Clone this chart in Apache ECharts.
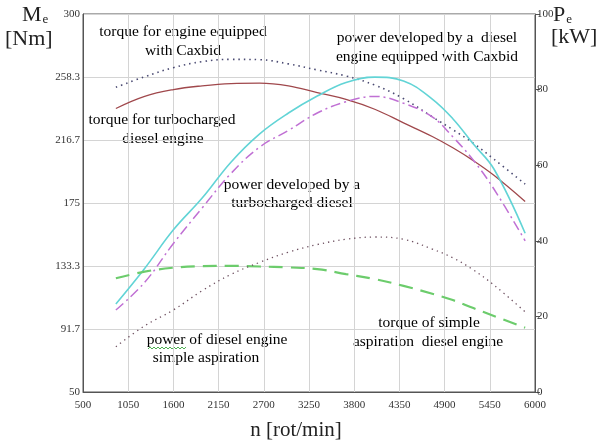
<!DOCTYPE html>
<html><head><meta charset="utf-8">
<script src="https://cdn.jsdelivr.net/npm/echarts@6/dist/echarts.min.js"></script>
<style>html,body{margin:0;padding:0;background:#fff}#c{width:599px;height:444px}</style>
</head><body><div id="c"></div>
<script>
var rpm = [900, 1250, 1600, 1950, 2300, 2650, 3000, 3350, 3700, 4050, 4400, 4750, 5000, 5250, 5500, 5880];
var torqueCaxbid = [251.5, 258.5, 264.5, 268.5, 270, 269.8, 267, 263, 259, 253, 244, 232, 223.5, 214.5, 204, 187.5];
var torqueTurbo = [237.5, 245.5, 250, 252.5, 254, 254.3, 252.5, 248, 243.5, 237, 228, 219, 211.5, 203, 193.3, 176];
var powerTurbo = [23.3, 32.7, 42.9, 51.3, 60.8, 68.3, 73.8, 78.3, 81.9, 83.3, 82.3, 77.5, 72.3, 65.6, 59, 42];
var powerCaxbid = [21.7, 29, 39.3, 48.7, 57.8, 64.8, 69.2, 73.8, 76.8, 78.2, 76.4, 72.8, 67.5, 61.3, 53.7, 40];
var torqueSimple = [125.2, 129.6, 132.2, 133.2, 133.4, 133, 132.4, 131.3, 128, 124.7, 120.2, 115, 110.8, 105.5, 100.3, 92.5];
var powerSimple = [12, 17.5, 21.7, 26.8, 31.1, 34.3, 37, 39, 40.4, 41, 40.4, 37.8, 35.5, 32.3, 28.3, 21.2];

function pairs(v){ return rpm.map(function(n,i){ return [n, v[i]]; }); }
var serif = 'Liberation Serif';
function fmt(v){ var s = (Math.round(v*10)/10).toFixed(1); return s.replace(/\.0$/, ''); }
function plain(v){ return String(Math.round(v)); }
var SM = 0.4;

var chart = echarts.init(document.getElementById('c'), null, {renderer:'canvas'});
chart.setOption({
  animation:false,
  backgroundColor:'#fff',
  grid:{left:83, right:64, top:14, bottom:52, show:true, borderColor:'#555', borderWidth:1},
  xAxis:{type:'value', min:500, max:6000, interval:550,
    axisLine:{show:true, lineStyle:{color:'#555'}}, axisTick:{show:false},
    axisLabel:{fontFamily:serif, fontSize:11, color:'#333', margin:8, formatter:plain},
    splitLine:{show:true, lineStyle:{color:'#d4d4d4'}}},
  yAxis:[
    {type:'value', min:50, max:300, interval:250/6, position:'left',
      axisLine:{show:true, lineStyle:{color:'#555'}}, axisTick:{show:false},
      axisLabel:{fontFamily:serif, fontSize:11, color:'#333', margin:3, formatter:fmt},
      splitLine:{show:true, lineStyle:{color:'#d4d4d4'}}},
    {type:'value', min:0, max:100, interval:20, position:'right',
      axisLine:{show:true, lineStyle:{color:'#555'}},
      axisTick:{show:true, inside:false, length:5, lineStyle:{color:'#555'}},
      axisLabel:{fontFamily:serif, fontSize:11, color:'#333', margin:2, formatter:plain},
      splitLine:{show:false}}
  ],
  series:[
    {type:'line', name:'torque Caxbid', yAxisIndex:0, smooth:SM, showSymbol:false, data:pairs(torqueCaxbid),
      lineStyle:{color:'#4a4a72', width:1.6, type:[1.5,4]}},
    {type:'line', name:'torque turbo', yAxisIndex:0, smooth:SM, showSymbol:false, data:pairs(torqueTurbo),
      lineStyle:{color:'#a0484c', width:1.3}},
    {type:'line', name:'power turbo', yAxisIndex:1, smooth:SM, showSymbol:false, data:pairs(powerTurbo),
      lineStyle:{color:'#62d4d6', width:1.6}},
    {type:'line', name:'power Caxbid', yAxisIndex:1, smooth:SM, showSymbol:false, data:pairs(powerCaxbid),
      lineStyle:{color:'#c070d4', width:1.5, type:[10,4,2,4]}},
    {type:'line', name:'torque simple', yAxisIndex:0, smooth:SM, showSymbol:false, data:pairs(torqueSimple),
      lineStyle:{color:'#6ccc6c', width:2.2, type:[14,8]}},
    {type:'line', name:'power simple', yAxisIndex:1, smooth:SM, showSymbol:false, data:pairs(powerSimple),
      lineStyle:{color:'#6e5060', width:1.3, type:[1.3,4]}}
  ],
  graphic:[
    {type:'text', left:22, top:4, style:{text:'{a|M}{b|e}', rich:{a:{fontFamily:serif, fontSize:22, fill:'#222'}, b:{fontFamily:serif, fontSize:13, fill:'#222', padding:[10,0,0,1]}}}},
    {type:'text', left:5, top:28, style:{text:'[Nm]', fontFamily:serif, fontSize:22, fill:'#222'}},
    {type:'text', left:553, top:4, style:{text:'{a|P}{b|e}', rich:{a:{fontFamily:serif, fontSize:22, fill:'#222'}, b:{fontFamily:serif, fontSize:13, fill:'#222', padding:[10,0,0,1]}}}},
    {type:'text', left:551, top:26, style:{text:'[kW]', fontFamily:serif, fontSize:22, fill:'#222'}},
    {type:'text', x:296, y:430, style:{text:'n [rot/min]', fontFamily:serif, fontSize:21, fill:'#222', textAlign:'center', textVerticalAlign:'middle'}},
    {type:'text', x:183, y:32, style:{text:'torque for engine equipped', fontFamily:serif, fontSize:15.5, fill:'#000', textAlign:'center', textVerticalAlign:'middle'}},
    {type:'text', x:183, y:51, style:{text:'with Caxbid', fontFamily:serif, fontSize:15.5, fill:'#000', textAlign:'center', textVerticalAlign:'middle'}},
    {type:'text', x:162, y:120, style:{text:'torque for turbocharged', fontFamily:serif, fontSize:15.5, fill:'#000', textAlign:'center', textVerticalAlign:'middle'}},
    {type:'text', x:163, y:139, style:{text:'diesel engine', fontFamily:serif, fontSize:15.5, fill:'#000', textAlign:'center', textVerticalAlign:'middle'}},
    {type:'text', x:427, y:38, style:{text:'power developed by a  diesel', fontFamily:serif, fontSize:15.5, fill:'#000', textAlign:'center', textVerticalAlign:'middle'}},
    {type:'text', x:427, y:57, style:{text:'engine equipped with Caxbid', fontFamily:serif, fontSize:15.5, fill:'#000', textAlign:'center', textVerticalAlign:'middle'}},
    {type:'text', x:292, y:185, style:{text:'power developed by a', fontFamily:serif, fontSize:15.5, fill:'#000', textAlign:'center', textVerticalAlign:'middle'}},
    {type:'text', x:292, y:203, style:{text:'turbocharged diesel', fontFamily:serif, fontSize:15.5, fill:'#000', textAlign:'center', textVerticalAlign:'middle'}},
    {type:'text', x:217, y:340, style:{text:'power of diesel engine', fontFamily:serif, fontSize:15.5, fill:'#000', textAlign:'center', textVerticalAlign:'middle'}},
    {type:'text', x:206, y:358, style:{text:'simple aspiration', fontFamily:serif, fontSize:15.5, fill:'#000', textAlign:'center', textVerticalAlign:'middle'}},
    {type:'text', x:429, y:323, style:{text:'torque of simple', fontFamily:serif, fontSize:15.5, fill:'#000', textAlign:'center', textVerticalAlign:'middle'}},
    {type:'text', x:428, y:342, style:{text:'aspiration  diesel engine', fontFamily:serif, fontSize:15.5, fill:'#000', textAlign:'center', textVerticalAlign:'middle'}},
    {type:'polyline', shape:{points:[[148,349],[150,347],[152,349],[154,347],[156,349],[158,347],[160,349],[162,347],[164,349],[166,347],[168,349],[170,347],[172,349],[174,347],[176,349],[178,347],[180,349],[182,347],[184,349],[186,347]]}, style:{stroke:'#4caf50', lineWidth:1, fill:null}}
  ]
});
</script></body></html>
